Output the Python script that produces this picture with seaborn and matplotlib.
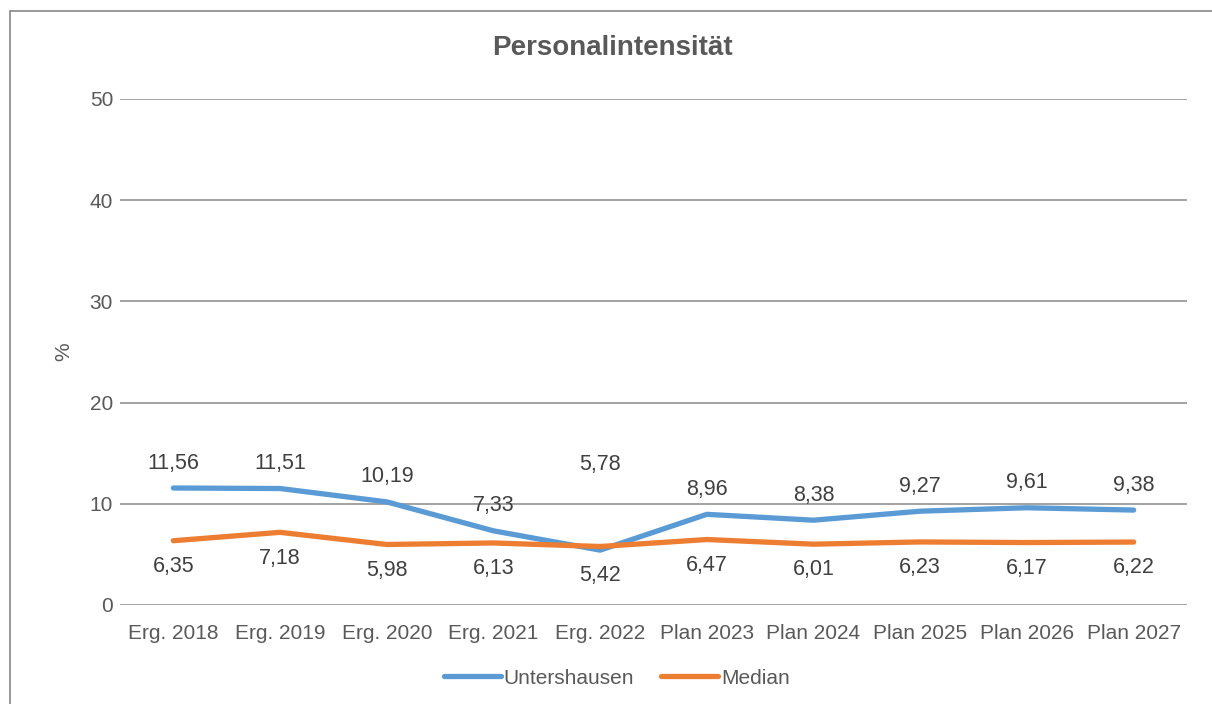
import numpy as np
import pandas as pd
import seaborn as sns
import matplotlib.pyplot as plt
from matplotlib.lines import Line2D

# data
years = ["Erg. 2018", "Erg. 2019", "Erg. 2020", "Erg. 2021", "Erg. 2022",
         "Plan 2023", "Plan 2024", "Plan 2025", "Plan 2026", "Plan 2027"]
untershausen = [11.56, 11.51, 10.19, 7.33, 5.42, 8.96, 8.38, 9.27, 9.61, 9.38]
median = [6.35, 7.18, 5.98, 6.13, 5.78, 6.47, 6.01, 6.23, 6.17, 6.22]

df = pd.DataFrame({
    "Jahr": years * 2,
    "Wert": untershausen + median,
    "Reihe": ["Untershausen"] * len(years) + ["Median"] * len(years),
})

sns.set_theme(style="white")
plt.rcParams["font.family"] = ["Liberation Sans", "DejaVu Sans"]

grey = "#595959"
colors = {"Untershausen": "#5B9BD5", "Median": "#ED7D31"}

fig = plt.figure(figsize=(12.12, 7.04), dpi=100)
ax = fig.add_axes([120 / 1212, 1 - 605 / 704, (1187 - 120) / 1212, (605 - 99) / 704])

sns.lineplot(data=df, x="Jahr", y="Wert", hue="Reihe", palette=colors,
             linewidth=3.8, sort=False, legend=False, ax=ax)

ax.set_xlim(-0.5, len(years) - 0.5)
ax.set_ylim(0, 50)
ax.set_yticks(range(0, 51, 10))
ax.grid(axis="y", color="#898989", linewidth=1.1)
ax.set_axisbelow(True)
for s in ax.spines.values():
    s.set_visible(False)
ax.tick_params(axis="both", length=0, labelsize=15, labelcolor=grey)
ax.tick_params(axis="x", pad=14)
ax.tick_params(axis="y", pad=5)
ax.set_xlabel("")
ax.set_ylabel("%", color=grey, fontsize=15, labelpad=12)

# title centred on the whole chart area
fig.text(612 / 1212, 1 - 48 / 704, "Personalintensität", fontsize=20, fontweight="bold",
         color=grey, ha="center", va="center")

# data labels: higher value above, lower value below
extra_up = {4: 41}
for i in range(len(years)):
    hi = max(untershausen[i], median[i])
    lo = min(untershausen[i], median[i])
    ax.annotate(f"{hi:.2f}".replace(".", ","), (i, hi), xytext=(0, 18 + extra_up.get(i, 0)),
                textcoords="offset points", ha="center", va="center",
                fontsize=15.5, color="#404040")
    ax.annotate(f"{lo:.2f}".replace(".", ","), (i, lo), xytext=(0, -18.5),
                textcoords="offset points", ha="center", va="center",
                fontsize=15.5, color="#404040")

handles = [Line2D([], [], color=colors[k], linewidth=3.8, solid_capstyle="round") for k in colors]
fig.legend(handles, list(colors), loc="center", bbox_to_anchor=(617 / 1212, 1 - 678 / 704),
           ncol=2, frameon=False, fontsize=15, labelcolor=grey,
           handlelength=2.7, handletextpad=0.15, columnspacing=1.3)

# outer chart border (top and left visible)
fig.add_artist(Line2D([10 / 1212, 1], [1 - 11 / 704, 1 - 11 / 704], color="#888888", linewidth=1.2))
fig.add_artist(Line2D([10 / 1212, 10 / 1212], [0, 1 - 11 / 704], color="#888888", linewidth=1.2))

fig.savefig("out.png", dpi=100)
